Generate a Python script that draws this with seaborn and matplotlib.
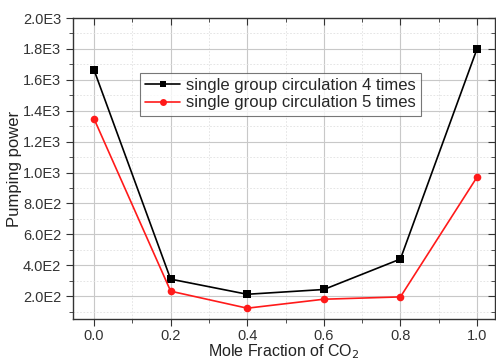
import matplotlib
matplotlib.use("Agg")
import matplotlib.pyplot as plt
import seaborn as sns
import pandas as pd
from matplotlib.ticker import MultipleLocator, FuncFormatter

x_vals = [0.0, 0.2, 0.4, 0.6, 0.8, 1.0]
series4 = [1663, 310, 212, 243, 440, 1800]
series5 = [1347, 232, 122, 180, 195, 970]
label4 = "single group circulation 4 times"
label5 = "single group circulation 5 times"

df = pd.DataFrame({
    "x": x_vals * 2,
    "y": series4 + series5,
    "series": [label4] * len(x_vals) + [label5] * len(x_vals),
})

sns.set_style("white")
plt.rcParams["font.family"] = ["Liberation Sans", "DejaVu Sans"]

fig = plt.figure(figsize=(4.96, 3.61), dpi=100)
ax = fig.add_axes([73 / 496, 1 - 319 / 361, (495 - 73) / 496, (319 - 18) / 361])

sns.lineplot(data=df, x="x", y="y", hue="series", style="series",
             palette={label4: "black", label5: "#ff1a1a"},
             markers={label4: "s", label5: "o"}, dashes=False,
             markersize=5.5, linewidth=1.2, markeredgewidth=0, ax=ax)

ax.set_xlim(-0.055, 1.047)
ax.set_ylim(52, 2000)
ax.xaxis.set_major_locator(MultipleLocator(0.2))
ax.xaxis.set_minor_locator(MultipleLocator(0.1))
ax.yaxis.set_major_locator(MultipleLocator(200))
ax.yaxis.set_minor_locator(MultipleLocator(100))

def sci(v, pos):
    if v <= 0:
        return ""
    e = 0
    m = v
    while m >= 10:
        m /= 10
        e += 1
    return f"{m:.1f}E{e}"

ax.yaxis.set_major_formatter(FuncFormatter(sci))
ax.xaxis.set_major_formatter(FuncFormatter(lambda v, p: f"{v:.1f}"))

ax.grid(True, which="major", color="#c8c8c8", linewidth=0.8)
ax.grid(True, which="minor", color="#e0e0e0", linewidth=0.6, linestyle=(0, (2, 2)))
ax.set_axisbelow(True)

for s in ax.spines.values():
    s.set_color("#333333")
    s.set_linewidth(1.0)

ax.tick_params(axis="both", which="both", colors="#333333", labelsize=10.5, labelcolor="#333333")
ax.tick_params(axis="x", which="major", bottom=True, top=True, direction="out", length=5, pad=2)
ax.tick_params(axis="y", which="major", left=True, right=True, direction="out", length=5)
ax.tick_params(axis="x", which="minor", bottom=True, top=True, direction="out", length=3)
ax.tick_params(axis="y", which="minor", left=True, right=True, direction="out", length=3)
for t in ax.xaxis.get_major_ticks() + ax.xaxis.get_minor_ticks():
    t.tick2line.set_marker(3)  # inward at top
for t in ax.yaxis.get_major_ticks() + ax.yaxis.get_minor_ticks():
    t.tick2line.set_marker(0)  # inward at right

ax.set_xlabel("Mole Fraction of CO$_2$", fontsize=11.5, color="#222222", labelpad=0)
ax.set_ylabel("Pumping power", fontsize=12, color="#222222", labelpad=1)
ax.xaxis.set_label_coords(0.5, -0.079)

leg = ax.legend(title=None, loc="upper left", bbox_to_anchor=(67 / 422, 1 - 55 / 301),
                fontsize=12, frameon=True, fancybox=False, edgecolor="#555555",
                borderpad=0.3, handlelength=2.1, handletextpad=0.35, labelspacing=0.15,
                borderaxespad=0)
leg.get_frame().set_linewidth(0.8)
for h in leg.legend_handles:
    h.set_markersize(5)
    h.set_linewidth(1.2)

fig.savefig("out.png", dpi=100)
